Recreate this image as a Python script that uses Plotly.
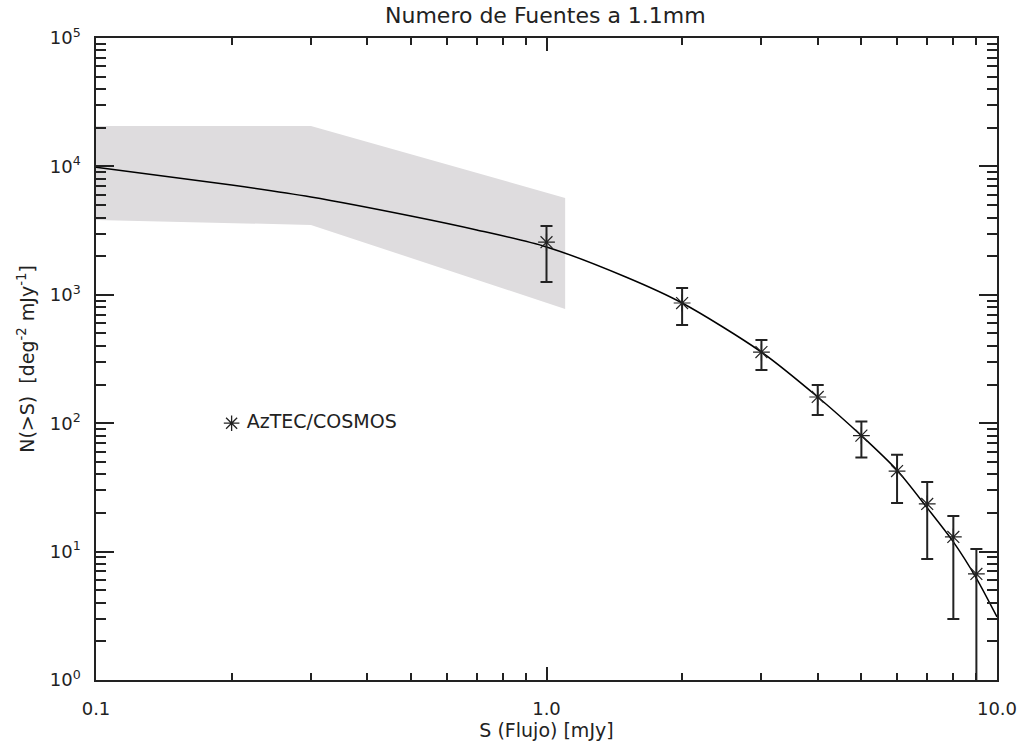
import plotly.graph_objects as go

# AzTEC/COSMOS data points
pts_x = [1, 2, 3, 4, 5, 6, 7, 8, 9]
pts_y = [2570, 863, 358, 160, 80, 42.4, 23.5, 13.0, 6.7]
pts_hi = [3440, 1130, 444, 198, 103, 56.9, 34.8, 18.9, 10.5]
pts_lo = [1260, 582, 260, 116, 54, 23.9, 8.75, 2.99, 0.3]

# model curve
curve_x = [0.1, 0.2, 0.3, 0.5, 0.7, 1.0, 1.5, 2, 3, 4, 5, 6, 7, 8, 9, 10]
curve_y = [9840, 7160, 5780, 4110, 3200, 2360, 1376, 863, 358, 160, 80, 43, 21.9, 11.9, 6.2, 3.1]

# GTM band
band_x = [0.1, 0.3, 1.1]
band_top = [20600, 20600, 5680]
band_bot = [3830, 3500, 776]

ytick_vals = [1, 10, 100, 1000, 10000, 100000]
ytick_text = ["10<sup>0</sup>", "10<sup>1</sup>", "10<sup>2</sup>", "10<sup>3</sup>", "10<sup>4</sup>", "10<sup>5</sup>"]
xtick_vals = [0.1, 1, 10]
xtick_text = ["0.1", "1.0", "10.0"]

ink = "#222222"
font = "DejaVu Sans"

fig = go.Figure()

fig.add_trace(go.Scatter(
    x=band_x + band_x[::-1], y=band_top + band_bot[::-1],
    fill="toself", fillcolor="#dedcde", line=dict(width=0), mode="lines",
    hoverinfo="skip", showlegend=False))

fig.add_trace(go.Scatter(
    x=curve_x, y=curve_y, mode="lines", line=dict(color="black", width=1.5, shape="spline", smoothing=0.8),
    showlegend=False))

fig.add_trace(go.Scatter(
    x=pts_x, y=pts_y, mode="markers",
    marker=dict(symbol="asterisk-open", size=14, line=dict(color=ink, width=1.2), color=ink),
    error_y=dict(type="data", symmetric=False,
                 array=[h - y for h, y in zip(pts_hi, pts_y)],
                 arrayminus=[y - l for y, l in zip(pts_y, pts_lo)],
                 color=ink, thickness=2, width=6),
    showlegend=False))

# legend symbol
fig.add_trace(go.Scatter(
    x=[0.2], y=[100], mode="markers+text", text=[" AzTEC/COSMOS"], textposition="middle right",
    textfont=dict(family=font, size=19, color=ink),
    marker=dict(symbol="asterisk-open", size=13, color=ink, line=dict(color=ink, width=1.3)),
    showlegend=False))

fig.add_annotation(x=0.283, y=10**4.12, xref="x", yref="y", text="<b>GTM</b>", showarrow=False,
                   font=dict(family=font, size=23, color=ink))

axis_common = dict(showline=True, linecolor=ink, linewidth=1.5, mirror="ticks", ticks="inside",
                   tickcolor=ink, showgrid=False, zeroline=False,
                   tickfont=dict(family=font, size=18, color=ink))

fig.update_layout(
    width=1029, height=753,
    margin=dict(l=96, r=32, t=38, b=73),
    paper_bgcolor="white", plot_bgcolor="white",
    title=dict(text="Numero de Fuentes a 1.1mm", x=0.53, xanchor="center", y=0.98, yanchor="middle",
               font=dict(family=font, size=22, color=ink)),
    xaxis=dict(type="log", range=[-1, 1], tickmode="array", tickvals=xtick_vals, ticktext=xtick_text,
               ticklen=13, tickwidth=1.5, ticklabelstandoff=12,
               minor=dict(ticks="inside", ticklen=7, tickwidth=1.5, tickcolor=ink,
                          tickvals=[0.2, 0.3, 0.4, 0.5, 0.6, 0.7, 0.8, 0.9, 2, 3, 4, 5, 6, 7, 8, 9]),
               title=dict(text="S (Flujo) [mJy]", font=dict(family=font, size=19, color=ink), standoff=4),
               **axis_common),
    yaxis=dict(type="log", range=[0, 5], tickmode="array", tickvals=ytick_vals, ticktext=ytick_text,
               ticklen=18, tickwidth=1.5, ticklabelstandoff=10,
               minor=dict(ticks="inside", ticklen=10, tickwidth=1.5, tickcolor=ink,
                          tickvals=[m * 10 ** e for e in range(5) for m in range(2, 10)]),
               title=dict(text="N(>S)  [deg<sup>-2</sup> mJy<sup>-1</sup>]", font=dict(family=font, size=19, color=ink), standoff=10),
               **axis_common),
)

fig.write_html("out.html")
